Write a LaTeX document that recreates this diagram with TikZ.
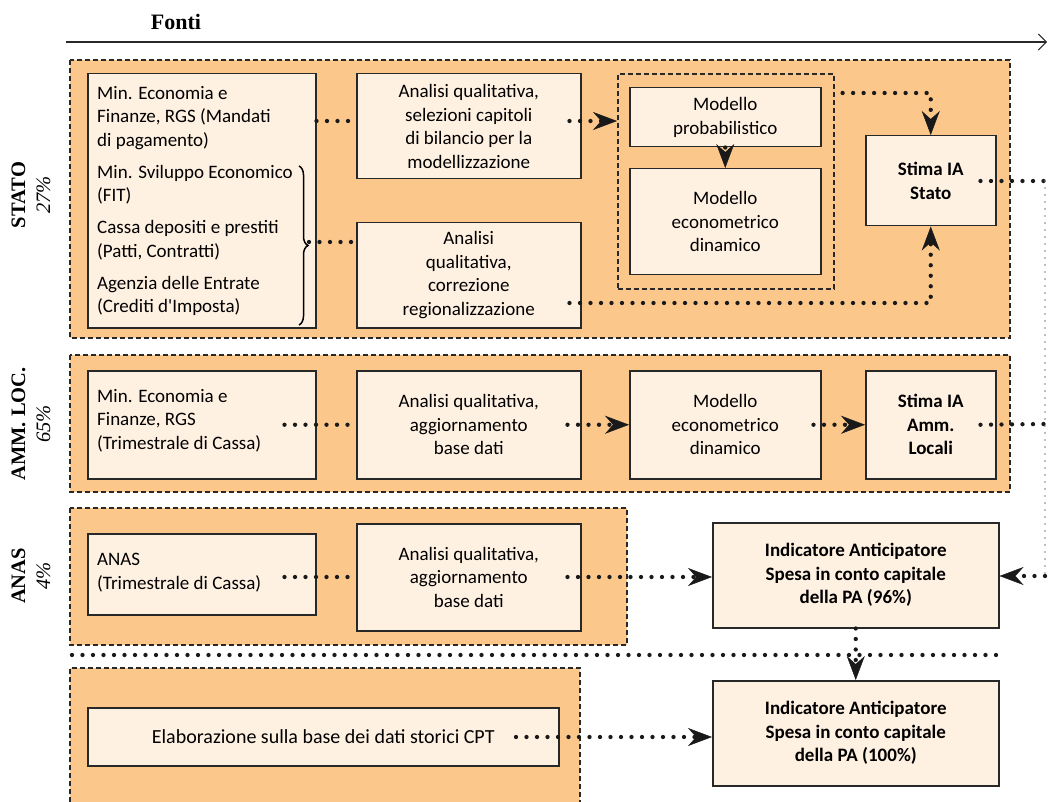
\documentclass[tikz,border=0pt]{standalone}
\usepackage{fontspec}
\setmainfont{Liberation Serif}
\newfontfamily\futura{Carlito}
\usetikzlibrary{arrows.meta,decorations.pathreplacing}
\definecolor{panelor}{RGB}{251,199,138}
\definecolor{boxcr}{RGB}{255,241,226}
\definecolor{lineclr}{RGB}{40,40,40}
\begin{document}
\begin{tikzpicture}[x=1pt,y=-1pt,
  font=\futura\fontsize{19}{23.5}\selectfont,
  panel/.style={fill=panelor, draw=lineclr, line width=1.6pt, dash pattern=on 5pt off 3pt},
  grpbox/.style={draw=lineclr, line width=1.6pt, dash pattern=on 5pt off 3pt},
  box/.style={draw=lineclr, fill=boxcr, line width=1.5pt, inner sep=0pt, align=center, anchor=north west},
  txt/.style={inner sep=0pt, align=left, anchor=north west},
  dotline/.style={line width=4.3pt, line cap=round, dash pattern=on 0pt off 10.5pt, black!90},
  arr/.style={-{Stealth[length=24pt,width=18pt,inset=8pt,line width=0.5pt]}},
  side/.style={rotate=90, align=center, font=\fontsize{20.5}{25}\selectfont, inner sep=0pt},
  bfbox/.style={font=\futura\bfseries\fontsize{19}{23.5}\selectfont}
]
\useasboundingbox (0,0) rectangle (1049,802);

% title arrow
\node[font=\bfseries\fontsize{22}{26}\selectfont] (fonti) at (176,22) {Fonti};
\coordinate (f1) at (66,42);
\coordinate (f2) at (1047,42);
\draw[line width=1.3pt, lineclr, -{Straight Barb[length=8pt,width=16pt,line width=1pt]}] (f1) -- (f2);

% panels
\path[panel] (70,60) rectangle (1010,338);
\path[panel] (70,355) rectangle (1010,492);
\path[panel] (70,508) rectangle (627,645);
\fill[panelor] (70,668) rectangle (580,802);
\draw[panel, fill=none] (70,802) -- (70,668) -- (580,668) -- (580,802);

% side labels
\node[side] (lstato) at (31,195) {\bfseries STATO\\\itshape 27\%};
\node[side] (lamm) at (31,424) {\bfseries AMM. LOC.\\\itshape 65\%};
\node[side] (lanas) at (31,576) {\bfseries ANAS\\\itshape 4\%};

% ---------- STATO
\node[box, minimum width=228pt, minimum height=254pt] (A1) at (87,73) {};
\node[txt] (A1t) at (97,86) {Min. Economia e\\Finanze, RGS (Mandati\\di pagamento)\\[8.5pt]
Min. Sviluppo Economico\\(FIT)\\[8.5pt]Cassa depositi e prestiti\\(Patti, Contratti)\\[8.5pt]
Agenzia delle Entrate\\(Crediti d'Imposta)};
\draw[line width=1.5pt, decorate, decoration={brace, amplitude=9pt}] (299,166) -- (299,325);
\coordinate (brt) at (309,242);

\node[box, minimum width=224pt, minimum height=105pt] (A2) at (356,73)
  {Analisi qualitativa,\\selezioni capitoli\\di bilancio per la\\modellizzazione};
\node[box, minimum width=224pt, minimum height=105pt] (A3) at (356,222)
  {Analisi\\qualitativa,\\correzione\\regionalizzazione};
\node[grpbox, minimum width=216pt, minimum height=215pt, inner sep=0pt, anchor=north west] (grp) at (617,73) {};
\node[box, minimum width=191pt, minimum height=59pt] (P) at (629,87) {Modello\\probabilistico};
\node[box, minimum width=191pt, minimum height=106pt] (E) at (629,168) {Modello\\econometrico\\dinamico};
\node[box, bfbox, minimum width=130pt, minimum height=90pt] (S) at (865,135) {Stima IA\\Stato};

\coordinate (y121) at (0,121);
\coordinate (y93) at (0,93);
\coordinate (y303) at (0,303);
\coordinate (y181) at (0,181);
\coordinate (rt1) at (1045,181);
\coordinate (rt2) at (1045,424);
\coordinate (rt3) at (1045,576);

\draw[dotline] (A1.east |- y121) -- (A2.west |- y121);
\draw[dotline] (brt) -- (A3.west |- brt);
\draw[dotline, arr] ([xshift=-12pt]A2.east |- y121) -- (grp.west |- y121);
\draw[dotline, arr] ([xshift=8pt]grp.east |- y93) -| (S.north);
\draw[dotline, arr] (P.south) -- (E.north);
\draw[dotline, arr] ([xshift=-12pt]A3.east |- y303) -| (S.south);
\draw[dotline] ([xshift=-16pt]S.east |- y181) -- (rt1);

% ---------- AMM. LOC.
\node[box, minimum width=228pt, minimum height=108pt] (B1) at (87,370) {};
\node[txt] (B1t) at (97,389) {Min. Economia e\\Finanze, RGS\\(Trimestrale di Cassa)};
\node[box, minimum width=224pt, minimum height=108pt] (B2) at (356,370) {Analisi qualitativa,\\aggiornamento\\base dati};
\node[box, minimum width=191pt, minimum height=108pt] (B3) at (629,370) {Modello\\econometrico\\dinamico};
\node[box, bfbox, minimum width=130pt, minimum height=108pt] (B4) at (865,370) {Stima IA\\Amm.\\Locali};

\draw[dotline] ([xshift=-32pt]B1.east) -- (B2.west);
\draw[dotline, arr] ([xshift=-14pt]B2.east) -- (B3.west);
\draw[dotline, arr] ([xshift=-8pt]B3.east) -- (B4.west);
\draw[dotline] ([xshift=-16pt]B4.east) -- (rt2);

% ---------- ANAS
\node[box, minimum width=228pt, minimum height=81pt] (C1) at (87,533) {};
\node[txt] (C1t) at (97,553) {ANAS\\(Trimestrale di Cassa)};
\node[box, minimum width=224pt, minimum height=107pt] (C2) at (356,523) {Analisi qualitativa,\\aggiornamento\\base dati};
\node[box, bfbox, minimum width=286pt, minimum height=105pt] (I96) at (712,522)
  {Indicatore Anticipatore\\Spesa in conto capitale\\della PA (96\%)};
\coordinate (y577) at (0,577);
\draw[dotline] ([xshift=-32pt]C1.east |- y577) -- (C2.west |- y577);
\draw[dotline, arr] ([xshift=-14pt]C2.east |- y577) -- (I96.west |- y577);

% right-side link
\draw[black!50, line width=1.6pt, line cap=round, dash pattern=on 0pt off 7pt] (rt1) -- (rt3);
\draw[dotline, arr] (rt3) -- (I96.east |- rt3);

% separator
\coordinate (sep1) at (72,655);
\coordinate (sep2) at (998,655);
\draw[dotline] (sep1) -- (sep2);

% ---------- bottom
\node[box, minimum width=471pt, minimum height=58pt, font=\futura\fontsize{20}{24}\selectfont] (D1) at (87,707) {Elaborazione sulla base dei dati storici CPT};
\node[box, bfbox, minimum width=286pt, minimum height=105pt] (I100) at (712,680)
  {Indicatore Anticipatore\\Spesa in conto capitale\\della PA (100\%)};
\coordinate (d1s) at (516,737);
\draw[dotline, arr] (d1s) -- (I100.west |- d1s);
\draw[dotline, arr] (I96.south) -- (I100.north);
\end{tikzpicture}
\end{document}
